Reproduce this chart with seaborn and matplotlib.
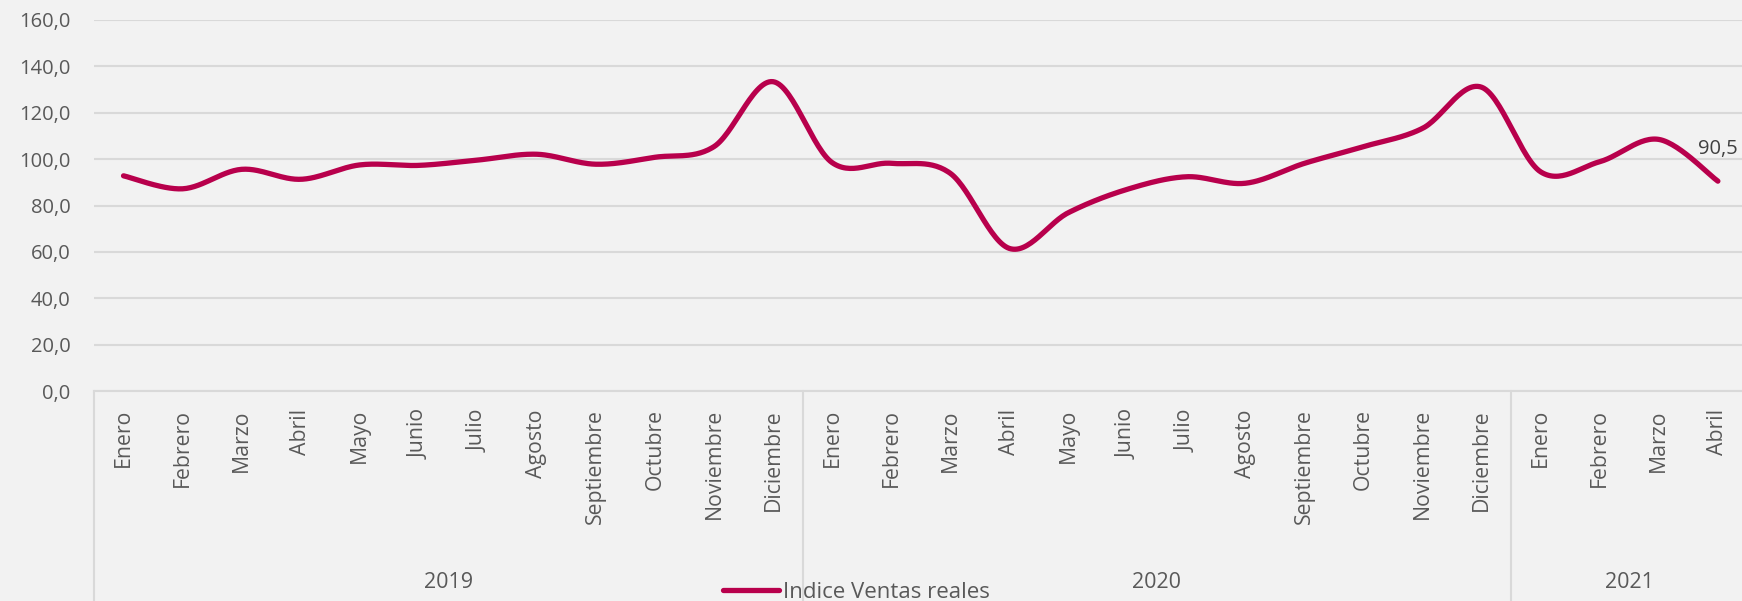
import numpy as np
import pandas as pd
import matplotlib
matplotlib.use("Agg")
import matplotlib.pyplot as plt
import matplotlib.transforms as mtransforms
from matplotlib.lines import Line2D
import seaborn as sns

# data
months = ["Enero", "Febrero", "Marzo", "Abril", "Mayo", "Junio", "Julio",
          "Agosto", "Septiembre", "Octubre", "Noviembre", "Diciembre"]
month_labels = months + months + months[:4]
years = ["2019", "2020", "2021"]
year_sizes = [12, 12, 4]
indice = [92.8, 87.2, 95.6, 91.3, 97.5, 97.3, 99.6, 102.1, 97.8, 100.8, 105.4, 133.4,
          98.5, 98.2, 93.9, 61.5, 76.9, 87.0, 92.4, 89.6, 98.2, 105.4, 113.3, 131.0,
          94.5, 98.9, 108.5, 90.5]
yticks = [0, 20, 40, 60, 80, 100, 120, 140, 160]

BG = "#F2F2F2"
GRID = "#D9D9D9"
LINE = "#B8004C"
TXT = "#595959"

sns.set_theme(style="white")
plt.rcParams["font.family"] = ["Open Sans", "DejaVu Sans"]


def smooth(xs, ys, n=30):
    # Catmull-Rom style smoothing like Excel's "smoothed line" option
    xs = np.asarray(xs, float)
    ys = np.asarray(ys, float)
    px = np.concatenate([[xs[0]], xs, [xs[-1]]])
    py = np.concatenate([[ys[0]], ys, [ys[-1]]])
    ox, oy = [], []
    for i in range(1, len(px) - 2):
        p0, p1, p2, p3 = (np.array([px[j], py[j]]) for j in (i - 1, i, i + 1, i + 2))
        c1 = p1 + (p2 - p0) / 6
        c2 = p2 - (p3 - p1) / 6
        t = np.linspace(0, 1, n, endpoint=(i == len(px) - 3))[:, None]
        pts = ((1 - t) ** 3) * p1 + 3 * ((1 - t) ** 2) * t * c1 + 3 * (1 - t) * t ** 2 * c2 + t ** 3 * p2
        ox.extend(pts[:, 0])
        oy.extend(pts[:, 1])
    return np.array(ox), np.array(oy)


x = np.arange(len(indice))
sx, sy = smooth(x, indice)
curve = pd.DataFrame({"x": sx, "y": sy})

W, H = 1742, 601
fig = plt.figure(figsize=(W / 100, H / 100), dpi=100)
fig.patch.set_facecolor(BG)
left, right, top, bottom = 94, 1742, 20, 391
ax = fig.add_axes([left / W, (H - bottom) / H, (right - left) / W, (bottom - top) / H])
ax.set_facecolor(BG)

sns.lineplot(data=curve, x="x", y="y", sort=False, color=LINE, linewidth=3.8,
             solid_capstyle="round", ax=ax, legend=False)

step = 59.05
ax.set_xlim(-0.5, -0.5 + (right - left) / step)
ax.set_ylim(0, 160)
ax.set_yticks(yticks)
ax.set_yticklabels([f"{v:.1f}".replace(".", ",") for v in yticks], fontsize=14.5, color=TXT)
ax.set_xticks(x)
ax.set_xticklabels(month_labels, rotation=90, fontsize=15.3, color=TXT)
ax.tick_params(axis="x", length=0, pad=13)
ax.tick_params(axis="y", length=0, pad=17)
ax.set_xlabel("")
ax.set_ylabel("")

ax.grid(axis="y", color=GRID, linewidth=1.5)
ax.grid(axis="x", visible=False)
for s in ["left", "right", "top"]:
    ax.spines[s].set_visible(False)
ax.spines["bottom"].set_color(GRID)
ax.spines["bottom"].set_linewidth(1.5)

# year groups under the month labels
trans = mtransforms.blended_transform_factory(ax.transData, fig.transFigure)
start = -0.5
for yr, n in zip(years, year_sizes):
    ax.axvline(start, ymin=-0.57, ymax=0, color=GRID, linewidth=1.5, clip_on=False)
    ax.text(start + n / 2, (H - 582) / H, yr, transform=trans, ha="center", va="center",
            fontsize=15.5, color=TXT)
    start += n

# label on the last point
ax.annotate(f"{indice[-1]:.1f}".replace(".", ","), xy=(x[-1], indice[-1]),
            xytext=(0, 23), textcoords="offset points", ha="center", va="center",
            fontsize=14.5, color="#404040")

handle = Line2D([], [], color=LINE, linewidth=3.8, solid_capstyle="round")
fig.legend(handles=[handle], labels=["Indice Ventas reales"], loc="center left",
           bbox_to_anchor=(723 / W, (H - 592) / H), frameon=False, fontsize=16,
           handlelength=2.5, handletextpad=0.2, borderpad=0, borderaxespad=0,
           labelcolor=TXT)

fig.savefig("out.png", dpi=100, facecolor=BG)
